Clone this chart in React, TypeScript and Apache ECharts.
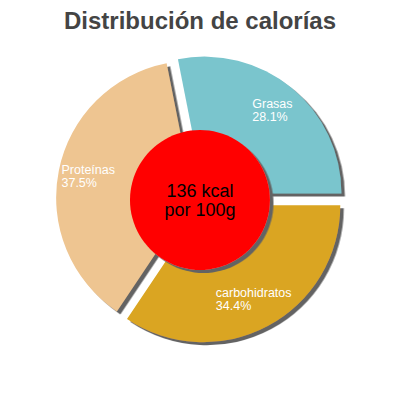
import React, { useEffect, useRef } from "react";
import * as echarts from "echarts";

const TITLE = "Distribución de calorías";
const CATEGORIES = ["Grasas", "Proteínas", "carbohidratos"];
const PERCENTS = [28.1, 37.5, 34.4];
const COLORS = ["#7AC5CD", "#EEC591", "#DAA520"];
const CENTER_LINES = ["136 kcal", "por 100g"];

const SHADOW = {
    shadowColor: "#636363",
    shadowOffsetX: 3.5,
    shadowOffsetY: 3,
    shadowBlur: 0,
};

const FONT = "'Liberation Sans', Arial, sans-serif";

const App: React.FC = () => {
    const ref = useRef<HTMLDivElement | null>(null);

    useEffect(() => {
        document.body.style.margin = "0";
        if (!ref.current) return;
        const chart = echarts.init(ref.current, undefined, { renderer: "svg" });

        const slices = CATEGORIES.map((name, i) => ({
            name,
            value: PERCENTS[i],
            selected: true,
            itemStyle: { color: COLORS[i] },
        }));

        chart.setOption({
            animation: false,
            title: {
                text: TITLE,
                left: "center",
                top: 3,
                textStyle: {
                    fontFamily: FONT,
                    fontSize: 24,
                    fontWeight: "bold",
                    color: "#444444",
                },
            },
            series: [
                {
                    // slices
                    type: "pie",
                    z: 1,
                    center: [200, 199],
                    radius: [0, 137],
                    startAngle: 0,
                    clockwise: false,
                    selectedMode: "multiple",
                    selectedOffset: 7,
                    silent: true,
                    label: { show: false },
                    labelLine: { show: false },
                    itemStyle: { borderWidth: 0, ...SHADOW },
                    data: slices,
                },
                {
                    // centre disc
                    type: "pie",
                    z: 3,
                    center: [200, 200],
                    radius: [0, 70],
                    silent: true,
                    itemStyle: { color: "#FF0000", borderWidth: 0, ...SHADOW },
                    labelLine: { show: false },
                    label: {
                        show: true,
                        position: "center",
                        formatter: CENTER_LINES.join("\n"),
                        color: "#000000",
                        fontFamily: FONT,
                        fontSize: 18,
                        lineHeight: 19,
                    },
                    data: [{ name: "kcal", value: 1 }],
                },
                {
                    // label ring, same geometry as the slices, transparent
                    type: "pie",
                    z: 4,
                    center: [200, 199],
                    radius: [71, 137],
                    startAngle: 0,
                    clockwise: false,
                    selectedMode: "multiple",
                    selectedOffset: 7,
                    silent: true,
                    percentPrecision: 1,
                    itemStyle: { color: "transparent", borderWidth: 0 },
                    labelLine: { show: false },
                    label: {
                        show: true,
                        position: "inside",
                        formatter: "{t|{b}}\n{t|{d}%}",
                        rich: {
                            t: {
                                align: "left",
                                color: "#ffffff",
                                fontFamily: FONT,
                                fontSize: 12.5,
                                lineHeight: 13,
                            },
                        },
                    },
                    data: CATEGORIES.map((name, i) => ({
                        name,
                        value: PERCENTS[i],
                        selected: true,
                    })),
                },
            ],
        });

        return () => chart.dispose();
    }, []);

    return <div ref={ref} style={{ width: 400, height: 400 }} />;
};

export default App;
